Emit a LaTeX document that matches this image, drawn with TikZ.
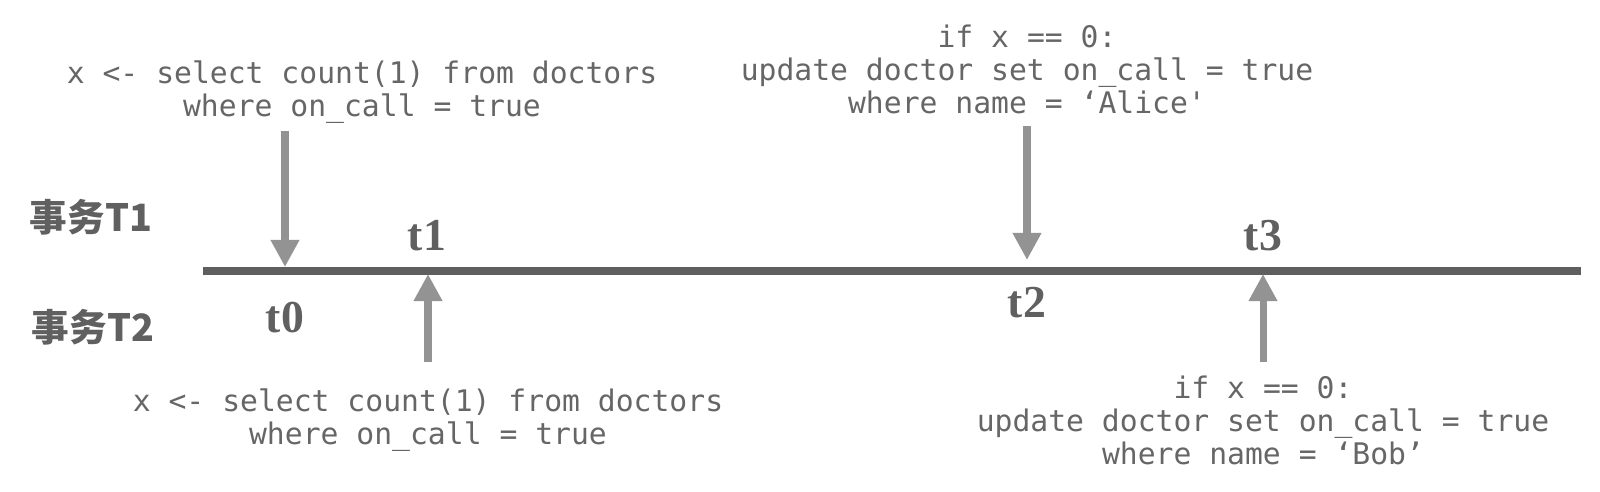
\documentclass[tikz,border=0pt]{standalone}
\usepackage{fontspec}
\usepackage{tikz}
\usetikzlibrary{arrows.meta,positioning}
\setmainfont{Liberation Serif}
\newfontfamily\codefont{DejaVu Sans Mono}
\newfontfamily\cjkfont{Noto Sans CJK SC}
\definecolor{LineGray}{HTML}{5F5F5F}
\definecolor{ArrowGray}{HTML}{939393}
\definecolor{TextGray}{HTML}{606060}
\definecolor{CodeGray}{HTML}{666666}

\begin{document}
\begin{tikzpicture}[
  x=0.01cm,y=-0.01cm,
  timeline/.style={line width=2.3pt,draw=LineGray},
  event/.style={-{Triangle[width=7.7pt,length=7.7pt]},line width=2pt,draw=ArrowGray},
  code/.style={align=center,inner sep=0pt,text=CodeGray,font=\codefont\fontsize{8.45}{9.4}\selectfont},
  tick/.style={inner sep=0pt,text=TextGray,font=\bfseries\fontsize{13}{14}\selectfont},
  txn/.style={inner sep=0pt,text=TextGray,font=\cjkfont\bfseries\fontsize{10.7}{12}\selectfont}
]
\useasboundingbox (0,0) rectangle (1600,492);
% time axis
\coordinate (axisL) at (203,271);
\coordinate (axisR) at (1581,271);
\draw[timeline] (axisL) -- (axisR);
% transaction labels
\node[txn] (T1) at (91,217) {事务T1};
\node[txn] (T2) at (93,327) {事务T2};
% time points
\node[tick] (t0) at (285,318) {t0};
\node[tick] (t1) at (427,236) {t1};
\node[tick] (t2) at (1027,303) {t2};
\node[tick] (t3) at (1263,236) {t3};
% statements
\node[code] (q1) at (362,92) {x <- select count(1) from doctors\\where on\_call = true};
\node[code] (u1) at (1027,69) {if x == 0:\\update doctor set on\_call = true\\where name = ‘Alice'};
\node[code] (q2) at (428,420) {x <- select count(1) from doctors\\where on\_call = true};
\node[code] (u2) at (1263,420) {if x == 0:\\update doctor set on\_call = true\\where name = ‘Bob’};
% arrow ends
\coordinate (a0) at (285,131);
\coordinate (p0) at (285,267);
\coordinate (a1) at (428,362);
\coordinate (p1) at (428,274);
\coordinate (a2) at (1027,126);
\coordinate (p2) at (1027,260);
\coordinate (a3) at (1263,362);
\coordinate (p3) at (1263,274);
\draw[event] (a0) -- (p0);
\draw[event] (a1) -- (p1);
\draw[event] (a2) -- (p2);
\draw[event] (a3) -- (p3);
\end{tikzpicture}
\end{document}
